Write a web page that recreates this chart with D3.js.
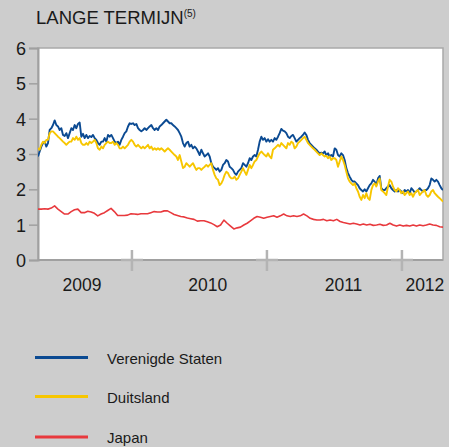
<!DOCTYPE html>
<html><head><meta charset="utf-8">
<script src="https://cdn.jsdelivr.net/npm/d3@7"></script>
<style>
html,body{margin:0;padding:0;background:#cdcdcd;}
svg{display:block;font-family:"Liberation Sans",Arial,sans-serif;}
</style></head>
<body><svg id="c" width="449" height="447"></svg>
<script>
// ---- data ----
const startDate = "2009-04-22";
const endDate = "2012-04-21";
const yTicks = [0,1,2,3,4,5,6];
const yearBoundaries = ["2010-01-01","2011-01-01","2012-01-01"];
const yearLabels = ["2009","2010","2011","2012"];
const yearLabelDates = ["2009-08-19","2010-07-25","2011-07-27","2012-03-03"];
const seriesNames = ["Verenigde Staten","Duitsland","Japan"];

const usValues = [
2.93,3.07,3.21,3.31,3.35,3.21,3.31,3.68,3.73,3.82,
3.95,3.82,3.78,3.68,3.73,3.54,3.51,3.59,3.45,3.59,
3.73,3.68,3.82,3.73,3.85,3.89,3.49,3.57,3.45,3.54,
3.45,3.51,3.48,3.54,3.45,3.40,3.31,3.26,3.35,3.35,
3.45,3.35,3.54,3.49,3.54,3.45,3.35,3.31,3.35,3.26,
3.40,3.49,3.59,3.64,3.78,3.87,3.85,3.87,3.82,3.85,
3.73,3.68,3.64,3.68,3.73,3.68,3.73,3.78,3.82,3.73,
3.68,3.73,3.68,3.78,3.82,3.87,3.92,3.97,3.92,3.87,
3.87,3.82,3.78,3.73,3.68,3.59,3.49,3.31,3.21,3.31,
3.35,3.21,3.26,3.16,3.21,3.16,3.07,2.97,3.12,3.02,
2.93,2.97,3.02,2.93,2.74,2.64,2.60,2.55,2.60,2.50,
2.55,2.69,2.74,2.83,2.79,2.64,2.60,2.55,2.46,2.41,
2.50,
2.55,2.60,2.74,2.69,2.64,2.74,2.88,2.83,2.93,2.97,
2.93,3.12,3.35,3.49,3.40,3.45,3.35,3.42,3.35,3.40,
3.35,3.45,3.40,3.49,3.59,3.71,3.66,3.64,3.59,3.49,
3.45,3.51,3.54,3.45,3.35,3.40,3.45,3.49,3.54,3.61,
3.54,3.40,3.31,3.26,3.21,3.16,3.12,3.07,3.02,3.04,
3.02,3.07,2.97,3.02,2.93,2.97,2.93,3.16,3.12,2.97,
2.93,3.02,2.97,2.83,2.60,2.46,2.36,2.27,2.22,2.22,
2.17,2.12,2.03,1.98,1.94,2.00,1.94,2.03,2.12,2.17,
2.27,2.22,2.12,2.31,2.38,2.03,1.98,1.98,2.03,2.08,
2.12,2.03,1.98,1.94,1.98,1.94,1.98,1.94,1.89,1.98,
1.94,1.98,1.89,2.03,1.98,1.91,1.94,1.98,2.03,1.98,
1.94,1.98,1.98,2.03,2.12,2.31,2.27,2.22,2.27,2.22,
2.12,2.03,1.98
];

const deValues = [
3.16,3.12,3.26,3.35,3.31,3.40,3.40,3.59,3.64,3.64,
3.59,3.54,3.49,3.45,3.40,3.35,3.31,3.26,3.31,3.35,
3.35,3.45,3.40,3.49,3.40,3.45,3.31,3.26,3.26,3.31,
3.26,3.35,3.31,3.35,3.40,3.31,3.16,3.12,3.21,3.16,
3.26,3.31,3.35,3.31,3.31,3.35,3.26,3.31,3.26,3.16,
3.16,3.21,3.16,3.21,3.26,3.35,3.40,3.35,3.26,3.21,
3.26,3.21,3.16,3.21,3.16,3.21,3.26,3.16,3.21,3.12,
3.16,3.12,3.16,3.12,3.16,3.12,3.07,3.12,3.16,3.12,
3.07,3.02,2.97,2.93,2.83,2.97,2.79,2.60,2.64,2.74,
2.69,2.64,2.69,2.74,2.64,2.55,2.60,2.60,2.55,2.60,
2.64,2.69,2.64,2.69,2.74,2.55,2.41,2.31,2.27,2.12,
2.17,2.27,2.41,2.50,2.46,2.36,2.31,2.31,2.36,2.27,
2.31,
2.41,2.50,2.60,2.50,2.41,2.55,2.69,2.60,2.69,2.79,
2.83,2.93,3.02,3.07,3.02,2.97,2.93,3.02,2.93,2.88,
3.12,3.16,3.21,3.26,3.21,3.31,3.26,3.21,3.16,3.31,
3.26,3.35,3.31,3.16,3.21,3.31,3.35,3.40,3.45,3.49,
3.40,3.31,3.26,3.21,3.16,3.12,3.07,3.02,2.97,3.02,
2.97,2.93,2.95,2.88,2.93,2.83,2.88,2.88,2.83,2.64,
2.79,2.93,2.83,2.69,2.50,2.31,2.22,2.17,2.12,2.17,
2.03,1.94,1.79,1.70,1.84,1.75,1.89,1.75,1.70,1.98,
2.12,2.17,2.08,2.22,2.31,1.98,1.94,1.89,1.84,2.08,
2.27,2.22,2.08,1.98,1.94,2.03,1.98,1.89,1.94,1.84,
1.89,1.94,1.84,1.89,1.79,1.89,1.94,1.98,1.84,1.89,
1.94,1.98,1.84,1.79,1.84,1.94,1.98,1.89,1.84,1.79,
1.75,1.70,1.65
];

const jpValues = [
1.44,1.44,1.45,1.44,1.47,1.53,1.44,1.37,1.30,1.30,
1.37,1.42,1.44,1.34,1.34,1.38,1.36,1.32,1.25,1.30,
1.34,1.40,1.46,1.37,1.26,1.26,1.26,1.27,1.31,1.30,
1.29,1.31,1.31,1.31,1.34,1.37,1.36,1.36,1.39,1.39,
1.34,1.29,1.26,1.23,1.22,1.19,1.17,1.15,1.10,1.11,
1.11,1.08,1.05,1.00,0.94,0.99,1.13,1.04,0.96,0.88,
0.91,
0.93,0.99,1.04,1.11,1.18,1.23,1.21,1.18,1.21,1.23,
1.25,1.21,1.25,1.30,1.25,1.23,1.25,1.23,1.25,1.30,
1.25,1.18,1.15,1.13,1.13,1.15,1.11,1.13,1.11,1.15,
1.09,1.06,1.04,1.02,1.04,1.02,0.99,1.02,0.99,1.01,
0.98,0.99,1.01,0.98,0.99,1.04,0.99,0.96,0.99,0.96,
0.98,0.96,0.99,0.96,0.99,0.97,0.99,1.02,0.99,0.98,
0.94,0.93
];

const colors = ["#0b4a92","#f7c600","#e8393d"];

// ---- chart ----
const svg = d3.select("#c");
const parse = d3.timeParse("%Y-%m-%d");
const t0 = parse(startDate), t1 = parse(endDate);
const plot = {left:38, right:443, top:48, bottom:260};

const x = d3.scaleTime().domain([t0,t1]).range([plot.left, plot.right]);
const y = d3.scaleLinear().domain([0,6]).range([plot.bottom, plot.top]);

function toPoints(vals){
  const n = vals.length;
  return vals.map((v,i)=>({d:new Date(+t0 + (t1-t0)*i/(n-1)), v}));
}

// title
const title = svg.append("text").attr("x",36).attr("y",24)
  .attr("font-size",18.5).attr("fill","#1a1a1a");
title.append("tspan").text("LANGE TERMIJN");
title.append("tspan").text("(5)").attr("font-size",10).attr("dy",-7);

// plot background
svg.append("rect").attr("x",plot.left).attr("y",plot.top)
  .attr("width",plot.right-plot.left).attr("height",plot.bottom-plot.top)
  .attr("fill","#fff").attr("stroke","#a9a9a9").attr("stroke-width",1.5);

// y axis
const yAxis = d3.axisLeft(y).tickValues(yTicks).tickSize(9).tickPadding(4).tickFormat(d3.format("d"));
const gy = svg.append("g").attr("transform",`translate(${plot.left},0)`).call(yAxis);
gy.select(".domain").attr("stroke","#a0a0a0").attr("stroke-width",2);
gy.selectAll(".tick line").attr("stroke","#a0a0a0").attr("stroke-width",1.5);
gy.selectAll(".tick text").attr("font-size",18).attr("fill","#1a1a1a")
  .attr("font-family","Liberation Sans, Arial, sans-serif").attr("dy","0.36em").attr("x",-12);

// x axis line
svg.append("line").attr("x1",plot.left).attr("x2",plot.right)
  .attr("y1",plot.bottom).attr("y2",plot.bottom)
  .attr("stroke","#a0a0a0").attr("stroke-width",2);

// year boundary crosses
const crosses = svg.append("g");
yearBoundaries.forEach(s=>{
  const cx = x(parse(s));
  crosses.append("line").attr("x1",cx).attr("x2",cx).attr("y1",plot.bottom-10).attr("y2",plot.bottom+11)
    .attr("stroke","#b4b4b4").attr("stroke-width",2.5);
  crosses.append("line").attr("x1",cx-11).attr("x2",cx+11).attr("y1",plot.bottom).attr("y2",plot.bottom)
    .attr("stroke","#b4b4b4").attr("stroke-width",2.5);
});

// year labels
svg.append("g").selectAll("text").data(yearLabels).join("text")
  .attr("x",(d,i)=>x(parse(yearLabelDates[i]))).attr("y",291)
  .attr("text-anchor","middle").attr("font-size",17.5).attr("fill","#1a1a1a")
  .text(d=>d);

// lines
const line = d3.line().x(p=>x(p.d)).y(p=>y(p.v));
const series = [usValues, deValues, jpValues];
const clip = svg.append("clipPath").attr("id","pc").append("rect")
  .attr("x",plot.left).attr("y",plot.top).attr("width",plot.right-plot.left).attr("height",plot.bottom-plot.top);
const gl = svg.append("g").attr("clip-path","url(#pc)");
series.forEach((vals,i)=>{
  gl.append("path").datum(toPoints(vals)).attr("d",line)
    .attr("fill","none").attr("stroke",colors[i])
    .attr("stroke-width", i===2 ? 1.6 : 1.9).attr("stroke-linejoin","round");
});

// legend
const legendY = [357.5, 396.5, 437];
const lg = svg.append("g").selectAll("g").data(seriesNames).join("g")
  .attr("transform",(d,i)=>`translate(0,${legendY[i]})`);
lg.append("line").attr("x1",35).attr("x2",88).attr("y1",0).attr("y2",0)
  .attr("stroke",(d,i)=>colors[i]).attr("stroke-width",3);
lg.append("text").attr("x",107).attr("y",6).attr("font-size",15).attr("fill","#1a1a1a").text(d=>d);
</script></body></html>
